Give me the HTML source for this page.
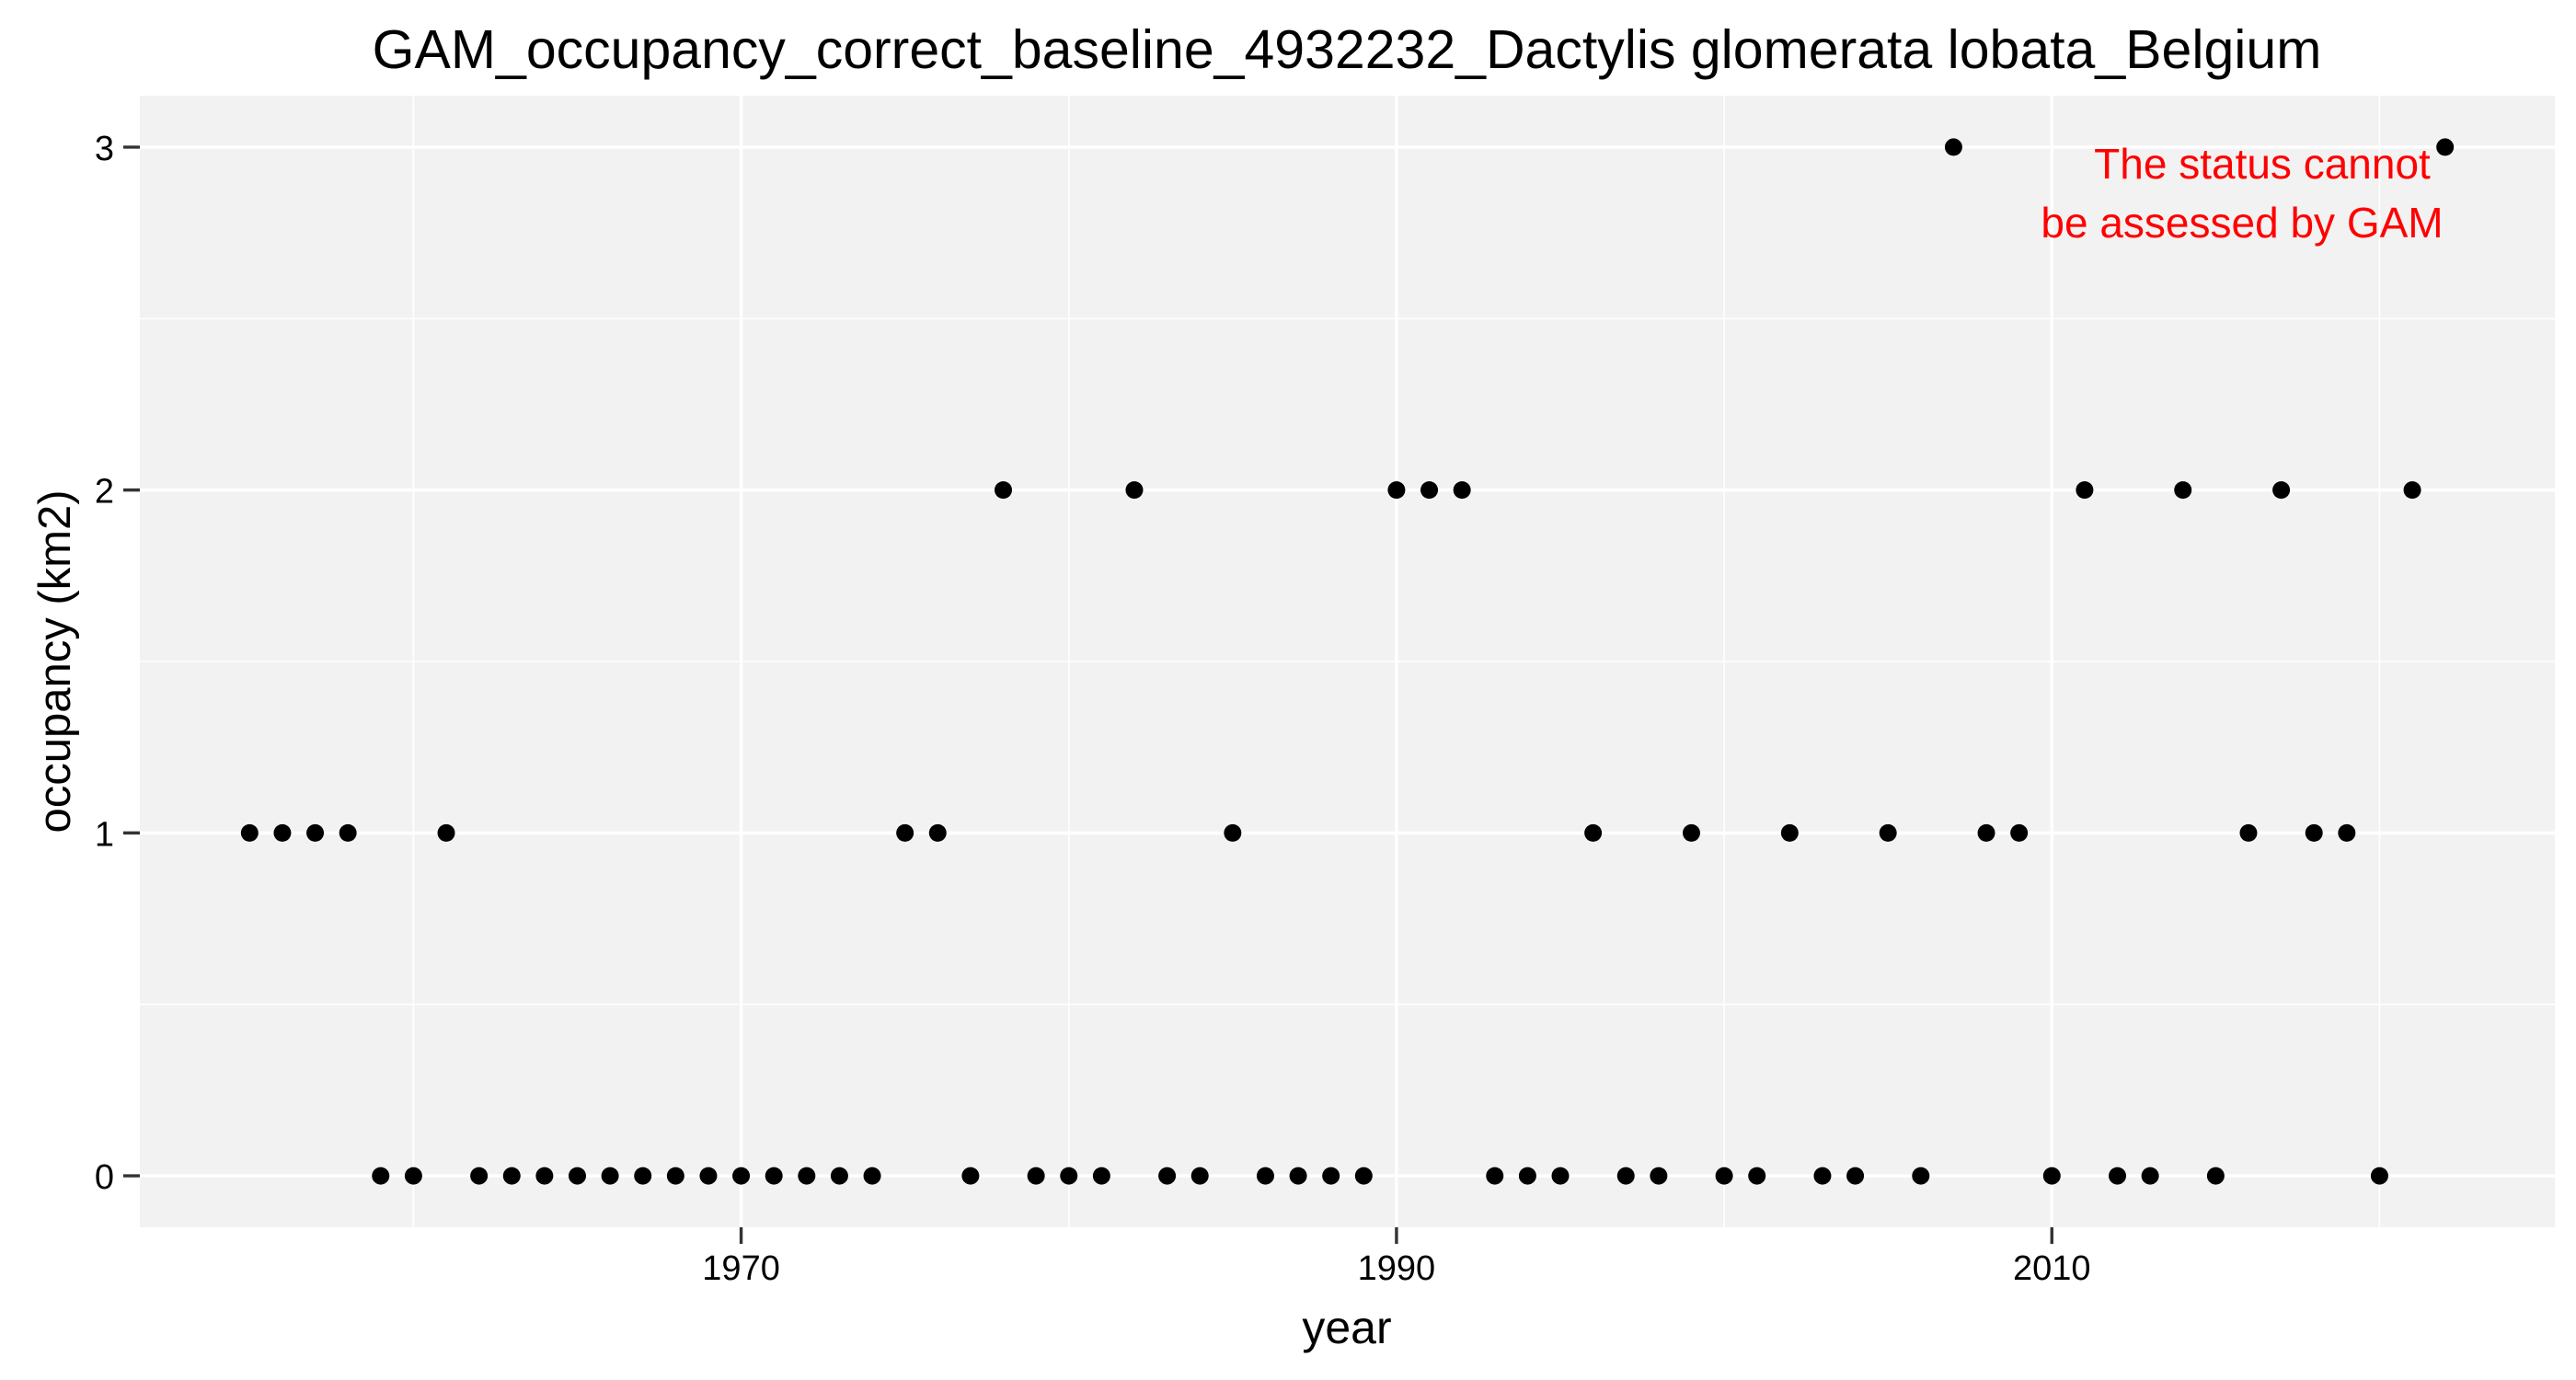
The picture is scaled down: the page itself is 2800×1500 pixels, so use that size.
<!DOCTYPE html>
<html><head><meta charset="utf-8"><style>
html,body{margin:0;padding:0;background:#fff;}
svg{display:block;font-family:"Liberation Sans",Arial,sans-serif;}
</style></head><body>
<svg id="chart" width="2800" height="1500" viewBox="0 0 2800 1500">
<text x="1464" y="74" font-size="59" text-anchor="middle" fill="#000">GAM_occupancy_correct_baseline_4932232_Dactylis glomerata lobata_Belgium</text>
<rect x="152" y="104" width="2625" height="1230" fill="#f2f2f2"/>
<g id="grid"></g>
<g id="axes"></g>
<g id="points"></g>
<text x="1464" y="1460" font-size="50" text-anchor="middle">year</text>
<text transform="translate(76,719) rotate(-90)" font-size="49" text-anchor="middle">occupancy (km2)</text>
<g fill="#ff0000" font-size="46" text-anchor="middle">
<text x="2459" y="194">The status cannot</text>
<text x="2437" y="258">be assessed by GAM</text>
</g>
</svg>
<script>
const years = [1955,1956,1957,1958,1959,1960,1961,1962,1963,1964,1965,1966,1967,1968,1969,1970,1971,1972,1973,1974,1975,1976,1977,1978,1979,1980,1981,1982,1983,1984,1985,1986,1987,1988,1989,1990,1991,1992,1993,1994,1995,1996,1997,1998,1999,2000,2001,2002,2003,2004,2005,2006,2007,2008,2009,2010,2011,2012,2013,2014,2015,2016,2017,2018,2019,2020,2021,2022];
const occupancy = [1,1,1,1,0,0,1,0,0,0,0,0,0,0,0,0,0,0,0,0,1,1,0,2,0,0,0,2,0,0,1,0,0,0,0,2,2,2,0,0,0,1,0,0,1,0,0,1,0,0,1,0,3,1,1,0,2,0,0,2,0,1,2,1,1,0,2,3];
const xTicks = [1970,1990,2010];
const xMinor = [1960,1980,2000,2020];
const yTicks = [0,1,2,3];
const yMinor = [0.5,1.5,2.5];

const NS="http://www.w3.org/2000/svg";
const PL=152, PR=2777, PT=104, PB=1334;
const xMin=1951.65, xMax=2025.35, yMin=-0.15, yMax=3.15;
function sx(v){return PL+(v-xMin)/(xMax-xMin)*(PR-PL);}
function sy(v){return PB-(v-yMin)/(yMax-yMin)*(PB-PT);}
function mk(tag,attrs,parent){const e=document.createElementNS(NS,tag);for(const k in attrs)e.setAttribute(k,attrs[k]);parent.appendChild(e);return e;}
const grid=document.getElementById('grid'), axes=document.getElementById('axes'), pts=document.getElementById('points');
xMinor.forEach(v=>{const l=mk('line',{x1:sx(v),x2:sx(v),y1:PT,y2:PB,stroke:'#fff','stroke-width':1.6},grid);

});
yMinor.forEach(v=>{const l=mk('line',{x1:PL,x2:PR,y1:sy(v),y2:sy(v),stroke:'#fff','stroke-width':1.6},grid);

});
xTicks.forEach(v=>{const l=mk('line',{x1:sx(v),x2:sx(v),y1:PT,y2:PB,stroke:'#fff','stroke-width':3.4},grid);


const t=mk('line',{x1:sx(v),x2:sx(v),y1:PB,y2:PB+18,stroke:'#333','stroke-width':3.4},axes);


const tx=mk('text',{x:sx(v),y:PB+57,'font-size':38,'text-anchor':'middle',fill:'#000'},axes);
tx.textContent=v;

});
yTicks.forEach(v=>{const l=mk('line',{x1:PL,x2:PR,y1:sy(v),y2:sy(v),stroke:'#fff','stroke-width':3.4},grid);


const t=mk('line',{x1:PL-18,x2:PL,y1:sy(v),y2:sy(v),stroke:'#333','stroke-width':3.4},axes);


const tx=mk('text',{x:PL-28,y:sy(v)+14,'font-size':38,'text-anchor':'end',fill:'#000'},axes);
tx.textContent=v;

});
years.forEach((y,i)=>{const c=mk('circle',{cx:sx(y),cy:sy(occupancy[i]),r:9.5,fill:'#000'},pts);

});
</script>
</body></html>
